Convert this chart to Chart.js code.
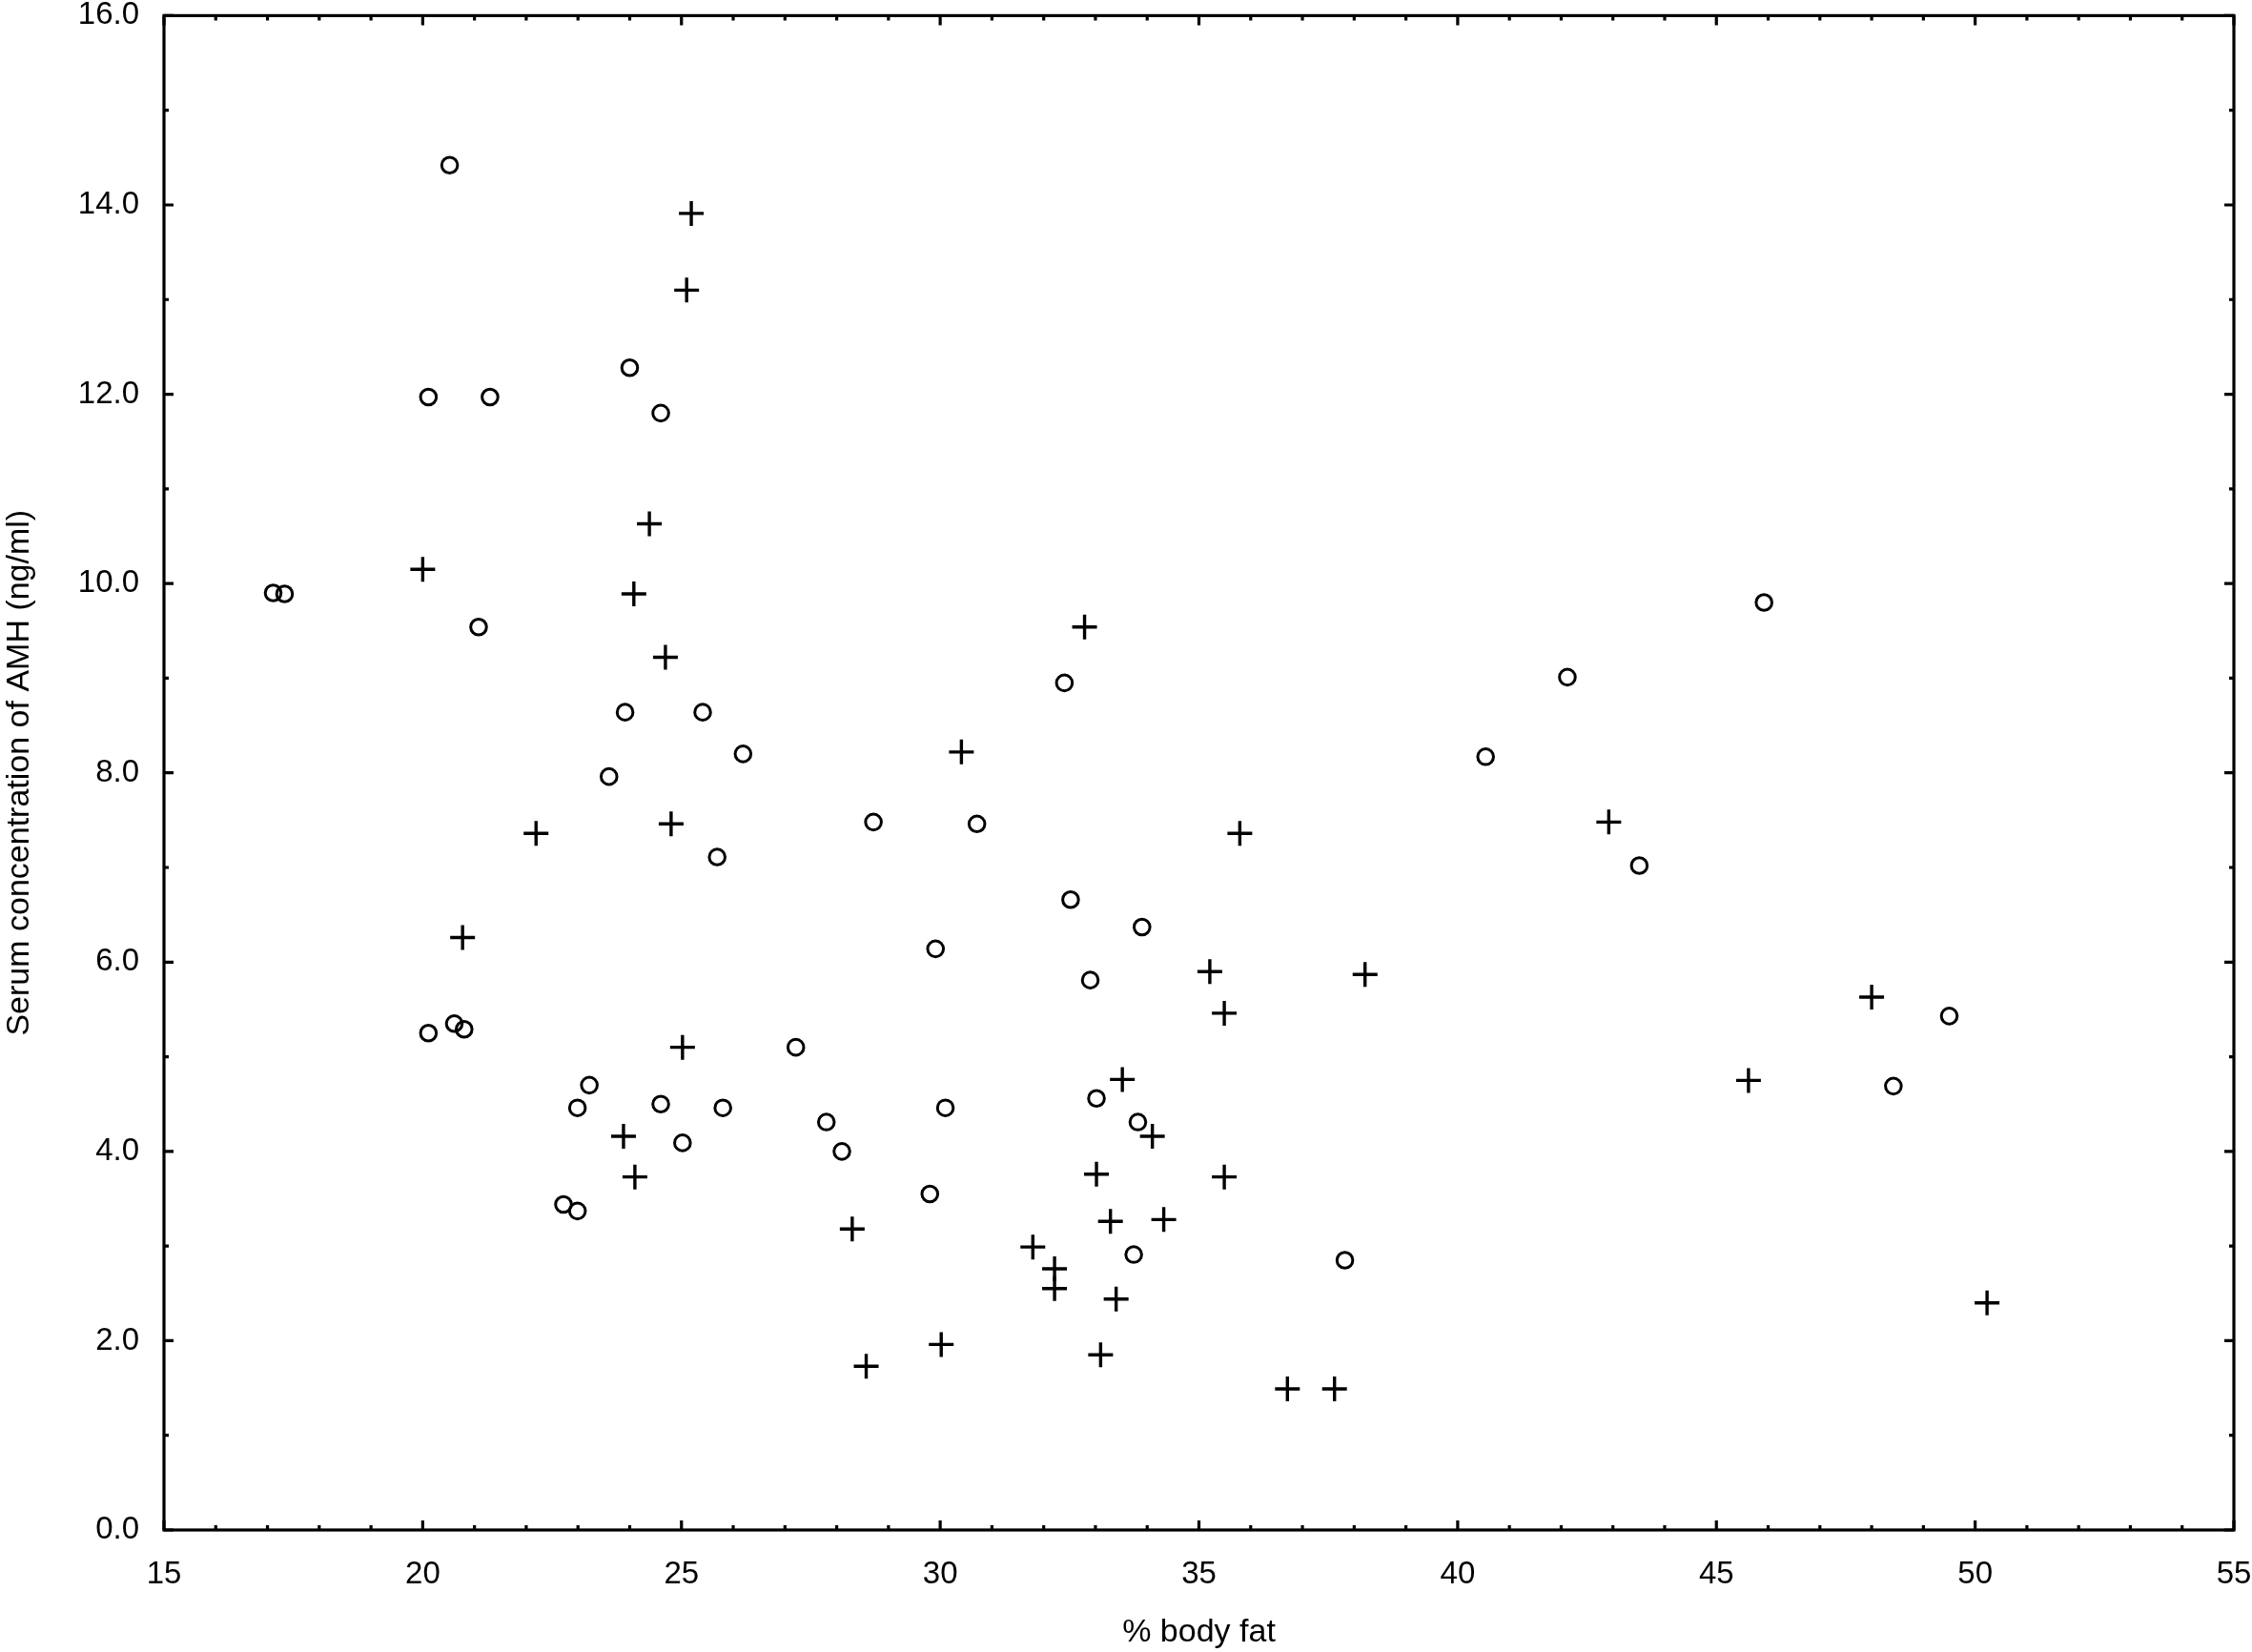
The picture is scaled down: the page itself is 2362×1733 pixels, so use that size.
<!DOCTYPE html>
<html>
<head>
  <meta charset="utf-8">
  <script src="https://cdn.jsdelivr.net/npm/chart.js@4"></script>
  <style>
    html, body { margin: 0; padding: 0; background: #fff; }
    #wrap { width: 2362px; height: 1733px; }
  </style>
</head>
<body>
<div id="wrap"><canvas id="amhChart"></canvas></div>
<script>
  // group 1 (open circles): % body fat and AMH
  const circleFat = [20.52, 20.11, 21.30, 24.0, 24.6, 17.11, 17.33, 21.08, 23.91, 25.41,
    26.19, 23.6, 25.69, 28.71, 30.71, 32.40, 32.52, 33.90, 29.91, 32.90,
    20.11, 20.61, 20.80, 23.22, 22.99, 24.60, 25.80, 25.02, 27.21, 27.80,
    28.10, 30.10, 22.72, 22.99, 29.80, 33.02, 33.82, 33.74, 37.82, 40.54,
    42.12, 45.92, 43.51, 48.42, 49.50];
  const circleAmh = [14.42, 11.97, 11.97, 12.28, 11.80, 9.90, 9.89, 9.54, 8.64, 8.64,
    8.20, 7.96, 7.11, 7.48, 7.46, 8.95, 6.66, 6.37, 6.14, 5.81,
    5.25, 5.35, 5.29, 4.70, 4.46, 4.50, 4.46, 4.09, 5.10, 4.31,
    4.00, 4.46, 3.44, 3.37, 3.55, 4.56, 4.31, 2.91, 2.85, 8.17,
    9.01, 9.80, 7.02, 4.69, 5.43];

  // group 2 (crosses)
  const crossFat = [25.19, 25.10, 20.0, 24.38, 24.08, 24.69, 24.80, 22.19, 20.77, 25.02,
    23.88, 24.10, 28.30, 28.57, 30.02, 30.41, 32.79, 35.79, 35.21, 35.49,
    38.21, 33.52, 34.10, 33.02, 35.49, 33.29, 34.32, 31.79, 32.21, 32.21,
    33.40, 33.10, 36.71, 37.62, 42.92, 45.62, 48.0, 50.23];
  const crossAmh = [13.91, 13.10, 10.15, 10.63, 9.89, 9.22, 7.46, 7.36, 6.26, 5.10,
    4.16, 3.73, 3.18, 1.73, 1.96, 8.22, 9.54, 7.36, 5.90, 5.46,
    5.87, 4.76, 4.16, 3.76, 3.73, 3.26, 3.28, 2.99, 2.76, 2.55,
    2.44, 1.85, 1.49, 1.49, 7.48, 4.75, 5.63, 2.40];

  const xTitle = '% body fat';
  const yTitle = 'Serum concentration of AMH (ng/ml)';

  function toPoints(xs, ys) {
    return xs.map((x, i) => ({x: x, y: ys[i]}));
  }

  const fontFamily = '"Liberation Sans", Arial, sans-serif';

  // frame with inward ticks on all four sides
  const framePlugin = {
    id: 'frame',
    afterDraw(chart) {
      const ctx = chart.ctx;
      const area = chart.chartArea;
      const xs = chart.scales.x;
      const ys = chart.scales.y;
      ctx.save();
      ctx.strokeStyle = '#000';
      ctx.lineWidth = 3.2;
      ctx.strokeRect(area.left, area.top, area.right - area.left, area.bottom - area.top);
      ctx.beginPath();
      for (let v = xs.min; v <= xs.max; v++) {
        const px = xs.getPixelForValue(v);
        const len = v % 5 === 0 ? 10 : 5;
        ctx.moveTo(px, area.bottom);
        ctx.lineTo(px, area.bottom - len);
        ctx.moveTo(px, area.top);
        ctx.lineTo(px, area.top + len);
      }
      for (let v = ys.min; v <= ys.max; v++) {
        const py = ys.getPixelForValue(v);
        const len = v % 2 === 0 ? 10 : 5;
        ctx.moveTo(area.left, py);
        ctx.lineTo(area.left + len, py);
        ctx.moveTo(area.right, py);
        ctx.lineTo(area.right - len, py);
      }
      ctx.stroke();
      ctx.restore();
    }
  };

  const ctx = document.getElementById('amhChart').getContext('2d');
  new Chart(ctx, {
    type: 'scatter',
    data: {
      datasets: [
        {
          label: 'circles',
          data: toPoints(circleFat, circleAmh),
          pointStyle: 'circle',
          pointRadius: 8.3,
          pointBorderWidth: 3,
          pointBorderColor: '#000',
          pointBackgroundColor: 'rgba(0,0,0,0)'
        },
        {
          label: 'crosses',
          data: toPoints(crossFat, crossAmh),
          pointStyle: 'cross',
          pointRadius: 13,
          pointBorderWidth: 3.4,
          pointBorderColor: '#000',
          pointBackgroundColor: '#000'
        }
      ]
    },
    options: {
      responsive: true,
      maintainAspectRatio: false,
      animation: false,
      layout: { padding: { left: 0, top: 14, right: 19, bottom: 0 } },
      plugins: { legend: { display: false }, tooltip: { enabled: false } },
      scales: {
        x: {
          type: 'linear',
          min: 15,
          max: 55,
          grid: { display: false, drawTicks: false },
          border: { display: false },
          ticks: {
            stepSize: 5,
            padding: 27,
            color: '#000',
            font: { family: fontFamily, size: 33 },
            maxRotation: 0
          },
          title: {
            display: true,
            text: xTitle,
            color: '#000',
            font: { family: fontFamily, size: 34 },
            padding: { top: 0, bottom: 0 }
          },
          afterFit(scale) {
            scale.height = 128;
            scale.paddingLeft = 0;
            scale.paddingRight = 0;
          }
        },
        y: {
          type: 'linear',
          min: 0,
          max: 16,
          grid: { display: false, drawTicks: false },
          border: { display: false },
          ticks: {
            stepSize: 2,
            padding: 26,
            color: '#000',
            font: { family: fontFamily, size: 33 },
            callback: v => v.toFixed(1)
          },
          title: {
            display: true,
            text: yTitle,
            color: '#000',
            font: { family: fontFamily, size: 34 },
            padding: { top: 0, bottom: 0 }
          },
          afterFit(scale) {
            scale.width = 172;
            scale.paddingTop = 0;
            scale.paddingBottom = 0;
          }
        }
      }
    },
    plugins: [framePlugin]
  });
</script>
</body>
</html>
